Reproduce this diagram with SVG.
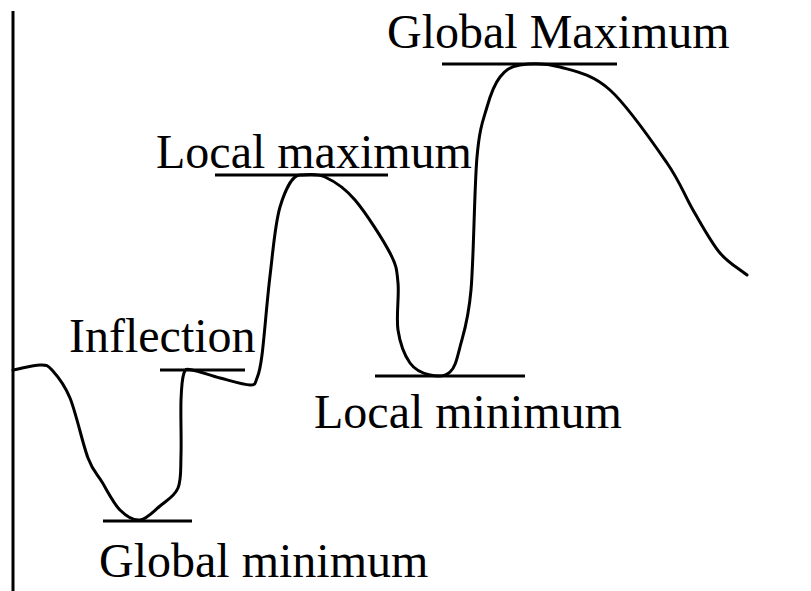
<svg xmlns="http://www.w3.org/2000/svg" width="811" height="591" viewBox="0 0 811 591">
<style>
.ln{stroke:#000;stroke-width:3;fill:none;stroke-linecap:butt}
.cv{stroke:#000;stroke-width:3;fill:none;stroke-linejoin:round;stroke-linecap:round}
.lbl{font-family:"Liberation Serif","Times New Roman",serif;font-size:48px;fill:#000}
</style>
<rect width="811" height="591" fill="#fff"/>
<g id="axis"><line class="ln" x1="13" y1="11" x2="13" y2="591"/></g>
<g id="connectors">
<path id="curve" class="cv" d="M13,370 C22,368.3 33.5,365 40,365 C46.5,365 47,364.5 52,370 C57,375.5 64,383.3 70,398 C76,412.7 82.7,444 88,458 C93.3,472 96.7,473.3 102,482 C107.3,490.7 113.7,503.7 120,510 C126.3,516.3 133.3,520.7 140,520 C146.7,519.3 153.7,511.3 160,506 C166.3,500.7 174.5,496.5 178,488 C181.5,479.5 180.5,469.7 181,455 C181.5,440.3 180.5,413.7 181,400 C181.5,386.3 182.2,378 184,373 C185.8,368 186,369.2 192,370 C198,370.8 210.3,375.5 220,378 C229.7,380.5 243.8,385 250,385 C256.2,385 255,383 257,378 C259,373 259.8,372 262,355 C264.2,338 267,300.7 270,276 C273,251.3 275,223.8 280,207 C285,190.2 292.5,175 300,175 C307.5,175 315.8,172.8 325,177 C334.2,181.2 344.2,187.3 355,200 C365.8,212.7 382.8,239.2 390,253 C397.2,266.8 396.7,270.2 398,283 C399.3,295.8 396,316.7 398,330 C400,343.3 404.7,355.5 410,363 C415.3,370.5 423.3,373.5 430,375 C436.7,376.5 445,376.7 450,372 C455,367.3 456.5,360.7 460,347 C463.5,333.3 468.2,321.7 471,290 C473.8,258.3 474.3,187.5 477,157 C479.7,126.5 483.2,120.3 487,107 C490.8,93.7 494.5,84 500,77 C505.5,70 510,66.7 520,65 C530,63.3 545,62.8 560,67 C575,71.2 592.2,74 610,90 C627.8,106 653.2,143 667,163 C680.8,183 684.2,195 693,210 C701.8,225 711,242.2 720,253 C729,263.8 738,267.7 747,275"/>
</g>
<g id="global-maximum">
<line class="ln" x1="442" y1="64" x2="617" y2="64"/>
<text class="lbl" x="387" y="48">Global Maximum</text>
</g>
<g id="local-maximum">
<line class="ln" x1="215" y1="175" x2="388" y2="175"/>
<text class="lbl" x="156" y="168">Local maximum</text>
</g>
<g id="inflection">
<line class="ln" x1="160" y1="370" x2="245" y2="370"/>
<text class="lbl" x="69" y="352">Inflection</text>
</g>
<g id="local-minimum">
<line class="ln" x1="375" y1="376" x2="525" y2="376"/>
<text class="lbl" x="314" y="428">Local minimum</text>
</g>
<g id="global-minimum">
<line class="ln" x1="103" y1="521" x2="192" y2="521"/>
<text class="lbl" x="99" y="577">Global minimum</text>
</g>
</svg>
